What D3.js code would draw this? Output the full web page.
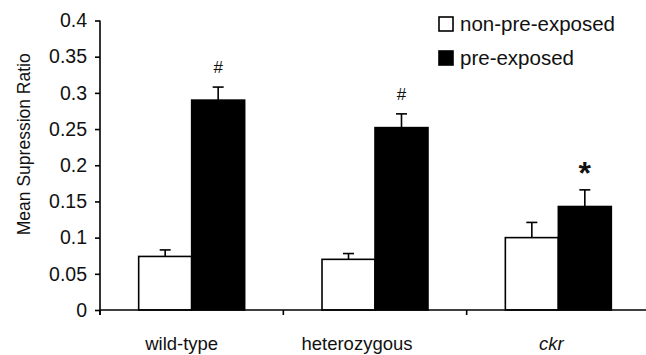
<!DOCTYPE html>
<html>
<head>
<meta charset="utf-8">
<script src="https://cdn.jsdelivr.net/npm/d3@7"></script>
<style>
  html, body { margin: 0; padding: 0; background: #fff; }
  svg { display: block; font-family: "Liberation Sans", Arial, sans-serif; }
</style>
</head>
<body>
<div id="chart"></div>
<script>
// data
const categories = ['wild-type', 'heterozygous', 'ckr'];
const seriesNames = ['non-pre-exposed', 'pre-exposed'];
const nonPreExposed = [0.074, 0.070, 0.100];
const nonPreExposedErr = [0.009, 0.008, 0.021];
const preExposed = [0.290, 0.252, 0.143];
const preExposedErr = [0.018, 0.019, 0.023];
const significance = ['#', '#', '*'];
const yTicks = [0, 0.05, 0.1, 0.15, 0.2, 0.25, 0.3, 0.35, 0.4];

const width = 646, height = 355;
const margin = { top: 20.5, right: -4, bottom: 45, left: 100 };

const svg = d3.select('#chart')
  .append('svg')
  .attr('width', width)
  .attr('height', height);

const y = d3.scaleLinear()
  .domain([0, 0.4])
  .range([height - margin.bottom, margin.top]);

const x = d3.scaleBand()
  .domain(categories)
  .range([margin.left, width - margin.right])
  .padding(0);

const xs = d3.scaleBand()
  .domain(seriesNames)
  .range([0, x.bandwidth()])
  .paddingInner(0)
  .paddingOuter(0.73);

const colors = { 'non-pre-exposed': '#fff', 'pre-exposed': '#000' };

// flatten into rows
const rows = [];
categories.forEach((c, i) => {
  rows.push({ cat: c, s: seriesNames[0], v: nonPreExposed[i], e: nonPreExposedErr[i] });
  rows.push({ cat: c, s: seriesNames[1], v: preExposed[i], e: preExposedErr[i], mark: significance[i] });
});

// error bars (upper only), drawn under bars
const err = svg.append('g').attr('stroke', '#000').attr('stroke-width', 1.6);
rows.forEach(d => {
  const cx = x(d.cat) + xs(d.s) + xs.bandwidth() / 2;
  err.append('line')
    .attr('x1', cx).attr('x2', cx)
    .attr('y1', y(d.v)).attr('y2', y(d.v + d.e));
  err.append('line')
    .attr('x1', cx - 5.5).attr('x2', cx + 5.5)
    .attr('y1', y(d.v + d.e)).attr('y2', y(d.v + d.e));
});

// bars
svg.append('g')
  .selectAll('rect')
  .data(rows)
  .join('rect')
    .attr('x', d => x(d.cat) + xs(d.s))
    .attr('y', d => y(d.v))
    .attr('width', xs.bandwidth())
    .attr('height', d => y(0) - y(d.v))
    .attr('fill', d => colors[d.s])
    .attr('stroke', '#000')
    .attr('stroke-width', 1.6);

// significance marks
svg.append('g')
  .selectAll('text')
  .data(rows.filter(d => d.mark))
  .join('text')
    .attr('x', d => x(d.cat) + xs(d.s) + xs.bandwidth() / 2)
    .attr('y', d => y(d.v + d.e) - (d.mark === '*' ? 6 : 14))
    .attr('text-anchor', 'middle')
    .style('font-size', d => d.mark === '*' ? '32px' : '17px')
    .style('font-weight', d => d.mark === '*' ? 'bold' : 'normal')
    .style('fill', '#111')
    .text(d => d.mark);

// y axis
const yAxis = svg.append('g')
  .attr('transform', `translate(${margin.left},0)`)
  .call(d3.axisLeft(y).tickValues(yTicks).tickSize(5).tickPadding(8)
    .tickFormat(d => d3.format('')(+d.toFixed(2))));
yAxis.select('.domain').attr('stroke-width', 1.6).attr('d', `M0,${y(0.4)}V${y(0) + 5}`);
yAxis.selectAll('.tick line').attr('stroke-width', 1.6);
yAxis.selectAll('text')
  .style('font-size', '19.5px')
  .style('fill', '#111');

// x axis
const xAxis = svg.append('g')
  .attr('transform', `translate(0,${y(0)})`);
xAxis.append('line')
  .attr('x1', margin.left).attr('x2', width - margin.right)
  .attr('stroke', '#000').attr('stroke-width', 1.6);
xAxis.selectAll('.sep')
  .data(categories)
  .join('line')
    .attr('class', 'sep')
    .attr('x1', d => x(d)).attr('x2', d => x(d))
    .attr('y1', 0).attr('y2', 5)
    .attr('stroke', '#000').attr('stroke-width', 1.6);
// labels in the original sit a little left of the band centres
const labelShift = { 'wild-type': -10, 'heterozygous': -18, 'ckr': -7 };
xAxis.selectAll('.lbl')
  .data(categories)
  .join('text')
    .attr('class', 'lbl')
    .attr('x', d => x(d) + x.bandwidth() / 2 + labelShift[d])
    .attr('y', 39.5)
    .attr('text-anchor', 'middle')
    .style('font-size', '18.5px')
    .style('font-style', d => d === 'ckr' ? 'italic' : 'normal')
    .style('fill', '#111')
    .text(d => d);

// y axis title
svg.append('text')
  .attr('transform', `translate(29.5,${(y(0) + y(0.4)) / 2 - 21}) rotate(-90)`)
  .attr('text-anchor', 'middle')
  .style('font-size', '17.5px')
  .style('fill', '#111')
  .text('Mean Supression Ratio');

// legend
const legend = svg.append('g').attr('transform', 'translate(439,17)');
seriesNames.forEach((s, i) => {
  const g = legend.append('g').attr('transform', `translate(0,${i * 34})`);
  g.append('rect')
    .attr('width', 14).attr('height', 14)
    .attr('fill', colors[s])
    .attr('stroke', '#000').attr('stroke-width', 1.6);
  g.append('text')
    .attr('x', 21).attr('y', 6.5)
    .attr('dy', '0.35em')
    .style('font-size', '20.5px')
    .style('fill', '#111')
    .text(s);
});
</script>
</body>
</html>
